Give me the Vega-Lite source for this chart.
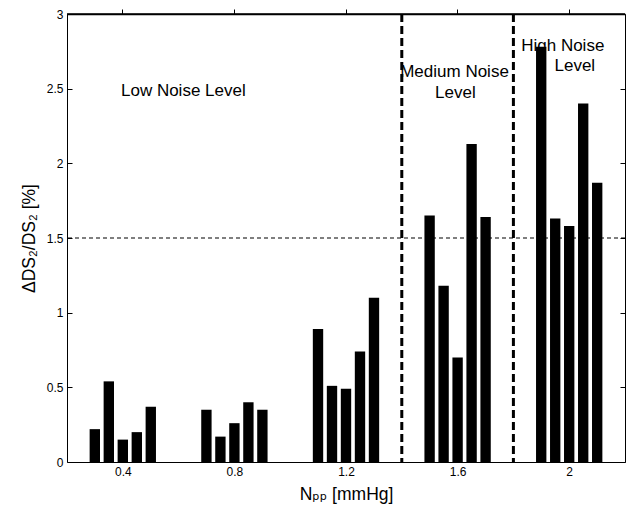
{
  "$schema": "https://vega.github.io/schema/vega-lite/v6.json",
  "width": 558,
  "height": 448,
  "autosize": {"type": "none"},
  "padding": {"left": 67, "top": 14, "right": 6, "bottom": 44},
  "background": "white",
  "config": {
    "view": {"stroke": null},
    "font": "Liberation Sans",
    "axis": {
      "domainColor": "black",
      "domainWidth": 1,
      "tickColor": "black",
      "tickSize": -5,
      "tickWidth": 1,
      "labelColor": "black",
      "labelFont": "Liberation Sans",
      "labelFontSize": 12,
      "labelPadding": 9,
      "titleFont": "Liberation Sans, DejaVu Sans",
      "titleFontSize": 17.5,
      "titleFontWeight": "normal",
      "titleColor": "black",
      "grid": false
    }
  },
  "layer": [
    {
      "data": {
        "values": [
          {"N": 0.4, "run": 1, "value": 0.22},
          {"N": 0.4, "run": 2, "value": 0.54},
          {"N": 0.4, "run": 3, "value": 0.15},
          {"N": 0.4, "run": 4, "value": 0.2},
          {"N": 0.4, "run": 5, "value": 0.37},
          {"N": 0.8, "run": 1, "value": 0.35},
          {"N": 0.8, "run": 2, "value": 0.17},
          {"N": 0.8, "run": 3, "value": 0.26},
          {"N": 0.8, "run": 4, "value": 0.4},
          {"N": 0.8, "run": 5, "value": 0.35},
          {"N": 1.2, "run": 1, "value": 0.89},
          {"N": 1.2, "run": 2, "value": 0.51},
          {"N": 1.2, "run": 3, "value": 0.49},
          {"N": 1.2, "run": 4, "value": 0.74},
          {"N": 1.2, "run": 5, "value": 1.1},
          {"N": 1.6, "run": 1, "value": 1.65},
          {"N": 1.6, "run": 2, "value": 1.18},
          {"N": 1.6, "run": 3, "value": 0.7},
          {"N": 1.6, "run": 4, "value": 2.13},
          {"N": 1.6, "run": 5, "value": 1.64},
          {"N": 2.0, "run": 1, "value": 2.78},
          {"N": 2.0, "run": 2, "value": 1.63},
          {"N": 2.0, "run": 3, "value": 1.58},
          {"N": 2.0, "run": 4, "value": 2.4},
          {"N": 2.0, "run": 5, "value": 1.87}
        ]
      },
      "mark": {"type": "bar", "color": "black"},
      "encoding": {
        "x": {
          "field": "N",
          "type": "ordinal",
          "scale": {"paddingInner": 0.373, "paddingOuter": 0.1865},
          "axis": {"orient": "top", "labels": false, "title": null, "ticks": true, "domain": true, "tickSize": 5, "domainWidth": 1.5}
        },
        "xOffset": {
          "field": "run",
          "type": "nominal",
          "scale": {"paddingInner": 0.26, "paddingOuter": 0.13}
        },
        "y": {
          "field": "value",
          "type": "quantitative",
          "scale": {"domain": [0, 3], "nice": false, "zero": true},
          "axis": {
            "orient": "left",
            "values": [0, 0.5, 1, 1.5, 2, 2.5, 3],
            "format": "~g",
            "title": "ΔDS₂/DS₂ [%]",
            "titlePadding": 8
          }
        }
      }
    },
    {
      "layer": [
        {
          "data": {"values": [{"boundary": 1.4}, {"boundary": 1.8}]},
          "mark": {"type": "rule", "color": "black", "strokeWidth": 3, "strokeDash": [8, 4]},
          "encoding": {
            "x": {
              "field": "boundary",
              "type": "quantitative",
              "scale": {"domain": [0.2, 2.2], "nice": false, "zero": false},
              "axis": {
                "orient": "bottom",
                "values": [0.4, 0.8, 1.2, 1.6, 2],
                "format": "~g",
                "title": "Nₚₚ [mmHg]",
                "titlePadding": 8
              }
            }
          }
        },
        {
          "data": {"values": [{"threshold": 1.5}]},
          "mark": {"type": "rule", "color": "black", "strokeWidth": 1.2, "strokeDash": [4, 3]},
          "encoding": {
            "y": {
              "field": "threshold",
              "type": "quantitative",
              "axis": {
                "orient": "right",
                "values": [0, 0.5, 1, 1.5, 2, 2.5, 3],
                "labels": false,
                "title": null
              }
            }
          }
        },
        {
          "data": {"values": [{"edge": 3}]},
          "mark": {"type": "rule", "color": "black", "strokeWidth": 1.5},
          "encoding": {
            "y": {"field": "edge", "type": "quantitative", "axis": null}
          }
        },
        {
          "data": {"values": [{"label": "Low Noise Level"}]},
          "mark": {"type": "text", "fontSize": 17, "color": "black", "align": "center", "baseline": "alphabetic", "font": "Liberation Sans"},
          "encoding": {
            "x": {"datum": 0.617, "type": "quantitative", "axis": null},
            "y": {"datum": 2.45, "type": "quantitative", "axis": null},
            "text": {"field": "label"}
          }
        },
        {
          "data": {"values": [{"label": "Medium Noise"}]},
          "mark": {"type": "text", "fontSize": 17, "color": "black", "align": "center", "baseline": "alphabetic", "font": "Liberation Sans"},
          "encoding": {
            "x": {"datum": 1.589, "type": "quantitative", "axis": null},
            "y": {"datum": 2.577, "type": "quantitative", "axis": null},
            "text": {"field": "label"}
          }
        },
        {
          "data": {"values": [{"label": "Level"}]},
          "mark": {"type": "text", "fontSize": 17, "color": "black", "align": "center", "baseline": "alphabetic", "font": "Liberation Sans"},
          "encoding": {
            "x": {"datum": 1.592, "type": "quantitative", "axis": null},
            "y": {"datum": 2.436, "type": "quantitative", "axis": null},
            "text": {"field": "label"}
          }
        },
        {
          "data": {"values": [{"label": "High Noise"}]},
          "mark": {"type": "text", "fontSize": 17, "color": "black", "align": "center", "baseline": "alphabetic", "font": "Liberation Sans"},
          "encoding": {
            "x": {"datum": 1.977, "type": "quantitative", "axis": null},
            "y": {"datum": 2.755, "type": "quantitative", "axis": null},
            "text": {"field": "label"}
          }
        },
        {
          "data": {"values": [{"label": "Level"}]},
          "mark": {"type": "text", "fontSize": 17, "color": "black", "align": "center", "baseline": "alphabetic", "font": "Liberation Sans"},
          "encoding": {
            "x": {"datum": 2.02, "type": "quantitative", "axis": null},
            "y": {"datum": 2.62, "type": "quantitative", "axis": null},
            "text": {"field": "label"}
          }
        }
      ],
      "resolve": {"axis": {"x": "independent", "y": "independent"}}
    }
  ],
  "resolve": {"scale": {"x": "independent"}, "axis": {"x": "independent", "y": "independent"}}
}
